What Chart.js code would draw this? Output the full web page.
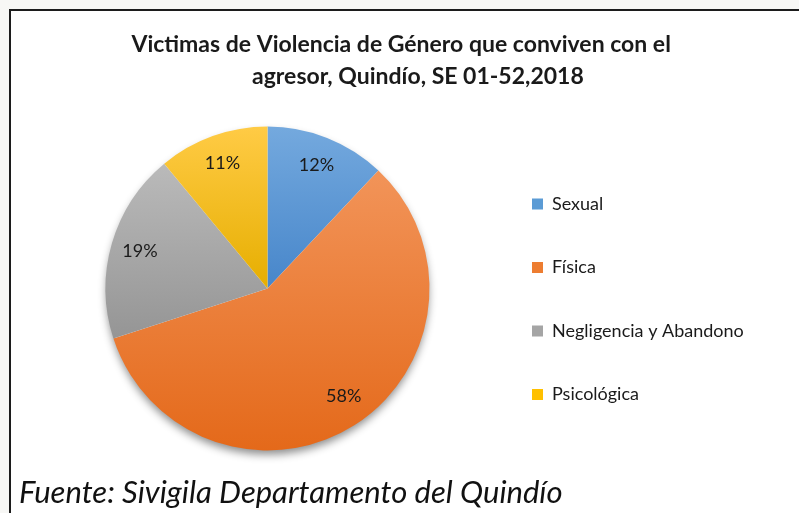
<!DOCTYPE html>
<html>
<head>
<meta charset="utf-8">
<script src="https://cdn.jsdelivr.net/npm/chart.js@4.4.1/dist/chart.umd.min.js"></script>
<style>
html,body{margin:0;padding:0;background:#f7f7f5;width:799px;height:513px;overflow:hidden;}
#marco{position:absolute;left:9px;top:9px;width:820px;height:540px;border:2px solid #1c1c1c;background:#fff;}
#grafica{position:absolute;left:0;top:0;}
#fuente{position:absolute;left:19px;top:473px;font-family:Lato;font-style:italic;font-size:31px;color:#111;white-space:nowrap;line-height:36px;}
</style>
</head>
<body>
<div id="marco"></div>
<canvas id="grafica" width="799" height="513"></canvas>
<div id="fuente">Fuente: Sivigila Departamento del Quindío</div>
<script>
// datos de la grafica
var tipos=["Sexual","Física","Negligencia y Abandono","Psicológica"];
var porcentajes=[12,58,19,11];
var titulo=["Victimas de Violencia de Género que conviven con el","\u00a0\u00a0\u00a0\u00a0\u00a0\u00a0agresor, Quindío, SE 01-52,2018"];

// colores (arriba claro, abajo oscuro)
var colorClaro=["#74a9de","#f29459","#bababa","#ffcb45"];
var colorOscuro=["#4786ca","#e4691a","#959595","#e6ae00"];
var colorLeyenda=["#5b9bd5","#ed7d31","#a5a5a5","#ffc000"];

var tamLeyenda=18;
var padLeyenda=45.5;
var cajaLeyenda=11;
var xMarca=532;

var med=document.createElement("canvas").getContext("2d");
med.font=tamLeyenda+"px Lato";
var maxTexto=0;
for(var i=0;i<tipos.length;i++){
    maxTexto=Math.max(maxTexto,med.measureText(tipos[i]).width);
}
var anchoLeyenda=padLeyenda+cajaLeyenda+tamLeyenda/2+maxTexto+10;
var izqLeyenda=xMarca-padLeyenda;
var padDer=799-izqLeyenda-anchoLeyenda;
var padIzq=2*267.5-izqLeyenda;

// gradiente por rebanada segun su caja vertical
function relleno(c){
    var chart=c.chart;
    var area=chart.chartArea;
    var i=c.dataIndex;
    if(!area) return colorLeyenda[i];
    var cx=(area.left+area.right)/2, cy=(area.top+area.bottom)/2;
    var r=162;
    var total=0;
    for(var k=0;k<porcentajes.length;k++) total+=porcentajes[k];
    var acum=0;
    for(var k=0;k<i;k++) acum+=porcentajes[k];
    var a0=-Math.PI/2+acum/total*2*Math.PI;
    var a1=a0+porcentajes[i]/total*2*Math.PI;
    var ys=[cy,cy+Math.sin(a0)*r,cy+Math.sin(a1)*r];
    var extremos=[-Math.PI/2,Math.PI/2,3*Math.PI/2];
    for(var k=0;k<extremos.length;k++){
        if(extremos[k]>a0&&extremos[k]<a1) ys.push(cy+Math.sin(extremos[k])*r);
    }
    var arriba=Math.min.apply(null,ys), abajo=Math.max.apply(null,ys);
    var g=chart.ctx.createLinearGradient(0,arriba,0,abajo);
    g.addColorStop(0,colorClaro[i]);
    g.addColorStop(1,colorOscuro[i]);
    return g;
}

var sombra={
    id:"sombra",
    beforeDatasetsDraw:function(chart){
        var arc=chart.getDatasetMeta(0).data[0];
        if(!arc) return;
        var ctx=chart.ctx;
        ctx.save();
        ctx.shadowColor="rgba(0,0,0,0.45)";
        ctx.shadowBlur=9;
        ctx.shadowOffsetY=5;
        ctx.fillStyle="#ffffff";
        ctx.beginPath();
        ctx.arc(arc.x,arc.y,arc.outerRadius-1,0,2*Math.PI);
        ctx.fill();
        ctx.restore();
    }
};

var etiquetas={
    id:"etiquetas",
    afterDatasetsDraw:function(chart){
        var ctx=chart.ctx;
        var meta=chart.getDatasetMeta(0);
        var total=0;
        for(var k=0;k<porcentajes.length;k++) total+=porcentajes[k];
        ctx.save();
        ctx.font="18px Lato";
        ctx.fillStyle="#1a1a1a";
        ctx.textAlign="center";
        ctx.textBaseline="middle";
        meta.data.forEach(function(arc,i){
            var p=arc.getProps(["x","y","startAngle","endAngle","outerRadius"],true);
            var a=(p.startAngle+p.endAngle)/2;
            var r=p.outerRadius*0.82;
            var dx=0,dy=0;
            if(i==1){dx=5;dy=-4;}
            ctx.fillText(Math.round(porcentajes[i]/total*100)+"%",p.x+Math.cos(a)*r+dx,p.y+Math.sin(a)*r+dy);
        });
        ctx.restore();
    }
};

var grafica=new Chart(document.getElementById("grafica").getContext("2d"),{
    type:"pie",
    data:{
        labels:tipos,
        datasets:[{
            data:porcentajes,
            backgroundColor:relleno,
            borderWidth:0,
            hoverOffset:0,
            offset:0,
            radius:162
        }]
    },
    options:{
        responsive:false,
        animation:false,
        layout:{padding:{left:padIzq,right:padDer,top:0,bottom:62.5}},
        plugins:{
            tooltip:{enabled:false},
            title:{
                display:true,
                text:titulo,
                color:"#1a1a1a",
                font:{family:"Lato",size:23,weight:"bold",lineHeight:"32px"},
                padding:{top:29,bottom:33.5}
            },
            legend:{
                position:"right",
                align:"start",
                fullSize:false,
                title:{display:true,text:" ",font:{size:10,lineHeight:"12px"},padding:{top:6,bottom:5}},
                labels:{
                    boxWidth:cajaLeyenda,
                    boxHeight:cajaLeyenda,
                    padding:padLeyenda,
                    color:"#1a1a1a",
                    font:{family:"Lato",size:tamLeyenda},
                    generateLabels:function(chart){
                        var items=Chart.overrides.pie.plugins.legend.labels.generateLabels(chart);
                        items.forEach(function(it,i){
                            it.fillStyle=colorLeyenda[i];
                            it.strokeStyle=colorLeyenda[i];
                            it.lineWidth=0;
                        });
                        return items;
                    }
                }
            }
        }
    },
    plugins:[sombra,etiquetas]
});
</script>
</body>
</html>
